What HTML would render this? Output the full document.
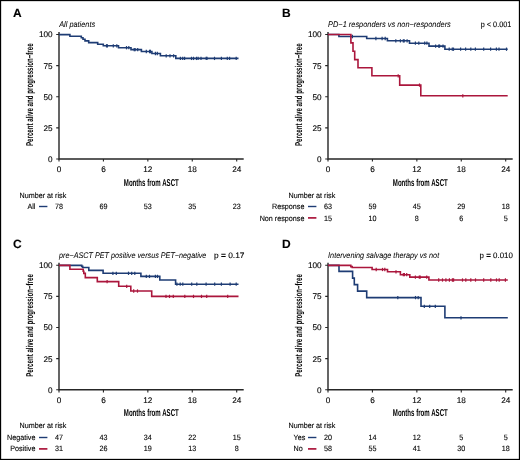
<!DOCTYPE html>
<html><head><meta charset="utf-8"><style>
html,body{margin:0;padding:0;background:#fff;}
svg{display:block;}
text{font-family:"Liberation Sans",sans-serif;fill:#000;text-rendering:geometricPrecision;}
.tx{filter:grayscale(1);}
.tx text{stroke:#000;stroke-width:0.12px;}
.tx text[font-style=italic]{stroke-width:0.04px;}
.tx text.ax{stroke-width:0;}
</style></head><body>
<svg width="520" height="460" viewBox="0 0 520 460">
<rect x="0" y="0" width="520" height="460" fill="#fff"/>
<path d="M59.0 32.0V159.0H243.7" fill="none" stroke="#262626" stroke-width="1.4"/>
<path d="M56.2 159.00H59.0M59.00 159.0V161.6M56.2 127.88H59.0M103.42 159.0V161.6M56.2 96.75H59.0M147.85 159.0V161.6M56.2 65.62H59.0M192.27 159.0V161.6M56.2 34.50H59.0M236.70 159.0V161.6" stroke="#262626" stroke-width="1.1"/>
<line x1="39.0" y1="206.5" x2="47.4" y2="206.5" stroke="#1e3c74" stroke-width="1.4"/>
<path d="M59.0 34.6H69.9V36.2H81.3V37.7H83.0V39.3H85.0V40.9H88.7V42.6H97.7V44.2H103.3V45.8H118.5V47.7H131.0V49.6H141.4V51.5H151.9V53.5H160.4V55.8H175.8V58.4H238.5" fill="none" stroke="#1e3c74" stroke-width="1.6"/>
<g stroke="#1e3c74" stroke-width="1.20"><line x1="106.5" y1="44.15" x2="106.5" y2="47.45"/><line x1="107.4" y1="44.15" x2="107.4" y2="47.45"/><line x1="113.3" y1="44.15" x2="113.3" y2="47.45"/><line x1="116.8" y1="44.15" x2="116.8" y2="47.45"/><line x1="126.5" y1="46.05" x2="126.5" y2="49.35"/><line x1="128.8" y1="46.05" x2="128.8" y2="49.35"/><line x1="134.2" y1="47.95" x2="134.2" y2="51.25"/><line x1="135.1" y1="47.95" x2="135.1" y2="51.25"/><line x1="137.7" y1="47.95" x2="137.7" y2="51.25"/><line x1="146.3" y1="49.85" x2="146.3" y2="53.15"/><line x1="149.6" y1="49.85" x2="149.6" y2="53.15"/><line x1="150.4" y1="49.85" x2="150.4" y2="53.15"/><line x1="155.4" y1="51.85" x2="155.4" y2="55.15"/><line x1="157.3" y1="51.85" x2="157.3" y2="55.15"/><line x1="166.2" y1="54.15" x2="166.2" y2="57.45"/><line x1="170.0" y1="54.15" x2="170.0" y2="57.45"/><line x1="173.6" y1="54.15" x2="173.6" y2="57.45"/><line x1="180.4" y1="56.75" x2="180.4" y2="60.05"/><line x1="182.7" y1="56.75" x2="182.7" y2="60.05"/><line x1="184.6" y1="56.75" x2="184.6" y2="60.05"/><line x1="191.5" y1="56.75" x2="191.5" y2="60.05"/><line x1="193.5" y1="56.75" x2="193.5" y2="60.05"/><line x1="196.5" y1="56.75" x2="196.5" y2="60.05"/><line x1="198.1" y1="56.75" x2="198.1" y2="60.05"/><line x1="201.0" y1="56.75" x2="201.0" y2="60.05"/><line x1="206.2" y1="56.75" x2="206.2" y2="60.05"/><line x1="207.0" y1="56.75" x2="207.0" y2="60.05"/><line x1="214.5" y1="56.75" x2="214.5" y2="60.05"/><line x1="221.4" y1="56.75" x2="221.4" y2="60.05"/><line x1="227.3" y1="56.75" x2="227.3" y2="60.05"/><line x1="229.6" y1="56.75" x2="229.6" y2="60.05"/><line x1="236.2" y1="56.75" x2="236.2" y2="60.05"/></g>
<path d="M328.0 32.0V159.0H512.7" fill="none" stroke="#262626" stroke-width="1.4"/>
<path d="M325.2 159.00H328.0M328.00 159.0V161.6M325.2 127.88H328.0M372.42 159.0V161.6M325.2 96.75H328.0M416.85 159.0V161.6M325.2 65.62H328.0M461.27 159.0V161.6M325.2 34.50H328.0M505.70 159.0V161.6" stroke="#262626" stroke-width="1.1"/>
<line x1="308.0" y1="206.5" x2="316.4" y2="206.5" stroke="#1e3c74" stroke-width="1.4"/>
<line x1="308.0" y1="217.9" x2="316.4" y2="217.9" stroke="#ab163c" stroke-width="1.7"/>
<path d="M328.0 34.5H338.9V36.5H366.7V38.5H387.4V40.8H409.5V43.2H429.0V46.1H444.9V49.2H507.7" fill="none" stroke="#1e3c74" stroke-width="1.6"/>
<g stroke="#1e3c74" stroke-width="1.20"><line x1="352.4" y1="34.85" x2="352.4" y2="38.15"/><line x1="375.9" y1="36.85" x2="375.9" y2="40.15"/><line x1="382.1" y1="36.85" x2="382.1" y2="40.15"/><line x1="385.2" y1="36.85" x2="385.2" y2="40.15"/><line x1="395.8" y1="39.15" x2="395.8" y2="42.45"/><line x1="400.4" y1="39.15" x2="400.4" y2="42.45"/><line x1="403.3" y1="39.15" x2="403.3" y2="42.45"/><line x1="404.2" y1="39.15" x2="404.2" y2="42.45"/><line x1="407.1" y1="39.15" x2="407.1" y2="42.45"/><line x1="415.4" y1="41.55" x2="415.4" y2="44.85"/><line x1="418.8" y1="41.55" x2="418.8" y2="44.85"/><line x1="424.7" y1="41.55" x2="424.7" y2="44.85"/><line x1="426.9" y1="41.55" x2="426.9" y2="44.85"/><line x1="435.6" y1="44.45" x2="435.6" y2="47.75"/><line x1="438.7" y1="44.45" x2="438.7" y2="47.75"/><line x1="439.6" y1="44.45" x2="439.6" y2="47.75"/><line x1="443.0" y1="44.45" x2="443.0" y2="47.75"/><line x1="449.2" y1="47.55" x2="449.2" y2="50.85"/><line x1="452.3" y1="47.55" x2="452.3" y2="50.85"/><line x1="453.5" y1="47.55" x2="453.5" y2="50.85"/><line x1="460.6" y1="47.55" x2="460.6" y2="50.85"/><line x1="465.6" y1="47.55" x2="465.6" y2="50.85"/><line x1="470.8" y1="47.55" x2="470.8" y2="50.85"/><line x1="475.4" y1="47.55" x2="475.4" y2="50.85"/><line x1="483.7" y1="47.55" x2="483.7" y2="50.85"/><line x1="490.6" y1="47.55" x2="490.6" y2="50.85"/><line x1="496.4" y1="47.55" x2="496.4" y2="50.85"/><line x1="499.0" y1="47.55" x2="499.0" y2="50.85"/><line x1="506.5" y1="47.55" x2="506.5" y2="50.85"/></g>
<path d="M328.0 34.5H350.9V42.9H353.0V51.2H354.7V59.6H358.0V67.7H371.9V75.8H399.7V85.1H420.8V95.8H507.7" fill="none" stroke="#ab163c" stroke-width="1.6"/>
<g stroke="#ab163c" stroke-width="1.20"><line x1="398.2" y1="74.15" x2="398.2" y2="77.45"/><line x1="419.5" y1="83.45" x2="419.5" y2="86.75"/><line x1="462.8" y1="94.15" x2="462.8" y2="97.45"/></g>
<path d="M59.0 262.8V389.8H243.7" fill="none" stroke="#262626" stroke-width="1.4"/>
<path d="M56.2 389.75H59.0M59.00 389.8V392.4M56.2 358.62H59.0M103.42 389.8V392.4M56.2 327.50H59.0M147.85 389.8V392.4M56.2 296.38H59.0M192.27 389.8V392.4M56.2 265.25H59.0M236.70 389.8V392.4" stroke="#262626" stroke-width="1.1"/>
<line x1="39.0" y1="437.5" x2="47.4" y2="437.5" stroke="#1e3c74" stroke-width="1.4"/>
<line x1="39.0" y1="448.9" x2="47.4" y2="448.9" stroke="#ab163c" stroke-width="1.7"/>
<path d="M59.0 265.4H81.7V266.4H82.7V267.5H88.8V270.4H103.1V273.3H140.9V276.4H159.8V280.0H175.6V284.2H238.5" fill="none" stroke="#1e3c74" stroke-width="1.6"/>
<g stroke="#1e3c74" stroke-width="1.20"><line x1="112.9" y1="271.65" x2="112.9" y2="274.95"/><line x1="116.3" y1="271.65" x2="116.3" y2="274.95"/><line x1="128.5" y1="271.65" x2="128.5" y2="274.95"/><line x1="131.7" y1="271.65" x2="131.7" y2="274.95"/><line x1="134.8" y1="271.65" x2="134.8" y2="274.95"/><line x1="146.3" y1="274.75" x2="146.3" y2="278.05"/><line x1="149.5" y1="274.75" x2="149.5" y2="278.05"/><line x1="155.4" y1="274.75" x2="155.4" y2="278.05"/><line x1="157.5" y1="274.75" x2="157.5" y2="278.05"/><line x1="176.9" y1="282.55" x2="176.9" y2="285.85"/><line x1="180.2" y1="282.55" x2="180.2" y2="285.85"/><line x1="182.8" y1="282.55" x2="182.8" y2="285.85"/><line x1="191.7" y1="282.55" x2="191.7" y2="285.85"/><line x1="196.8" y1="282.55" x2="196.8" y2="285.85"/><line x1="206.1" y1="282.55" x2="206.1" y2="285.85"/><line x1="214.7" y1="282.55" x2="214.7" y2="285.85"/><line x1="221.4" y1="282.55" x2="221.4" y2="285.85"/><line x1="230.1" y1="282.55" x2="230.1" y2="285.85"/><line x1="236.2" y1="282.55" x2="236.2" y2="285.85"/></g>
<path d="M59.0 265.4H69.9V269.2H83.2V271.3H83.8V273.4H85.3V277.6H97.3V281.6H118.7V286.3H130.8V291.0H151.7V296.4H238.5" fill="none" stroke="#ab163c" stroke-width="1.6"/>
<g stroke="#ab163c" stroke-width="1.20"><line x1="107.1" y1="279.95" x2="107.1" y2="283.25"/><line x1="126.7" y1="284.65" x2="126.7" y2="287.95"/><line x1="133.7" y1="289.35" x2="133.7" y2="292.65"/><line x1="137.5" y1="289.35" x2="137.5" y2="292.65"/><line x1="166.0" y1="294.75" x2="166.0" y2="298.05"/><line x1="169.5" y1="294.75" x2="169.5" y2="298.05"/><line x1="173.3" y1="294.75" x2="173.3" y2="298.05"/><line x1="184.8" y1="294.75" x2="184.8" y2="298.05"/><line x1="193.5" y1="294.75" x2="193.5" y2="298.05"/><line x1="201.5" y1="294.75" x2="201.5" y2="298.05"/><line x1="206.7" y1="294.75" x2="206.7" y2="298.05"/><line x1="227.7" y1="294.75" x2="227.7" y2="298.05"/></g>
<path d="M328.0 262.8V389.8H512.7" fill="none" stroke="#262626" stroke-width="1.4"/>
<path d="M325.2 389.75H328.0M328.00 389.8V392.4M325.2 358.62H328.0M372.42 389.8V392.4M325.2 327.50H328.0M416.85 389.8V392.4M325.2 296.38H328.0M461.27 389.8V392.4M325.2 265.25H328.0M505.70 389.8V392.4" stroke="#262626" stroke-width="1.1"/>
<line x1="308.0" y1="437.5" x2="316.4" y2="437.5" stroke="#1e3c74" stroke-width="1.4"/>
<line x1="308.0" y1="448.9" x2="316.4" y2="448.9" stroke="#ab163c" stroke-width="1.7"/>
<path d="M328.0 265.4H339.0V271.4H352.6V278.1H354.3V284.6H357.6V291.1H366.7V297.6H421.0V306.3H444.9V317.8H507.8" fill="none" stroke="#1e3c74" stroke-width="1.6"/>
<g stroke="#1e3c74" stroke-width="1.20"><line x1="397.8" y1="295.95" x2="397.8" y2="299.25"/><line x1="415.5" y1="295.95" x2="415.5" y2="299.25"/><line x1="418.2" y1="295.95" x2="418.2" y2="299.25"/><line x1="424.3" y1="304.65" x2="424.3" y2="307.95"/><line x1="429.7" y1="304.65" x2="429.7" y2="307.95"/><line x1="435.3" y1="304.65" x2="435.3" y2="307.95"/><line x1="461.0" y1="316.15" x2="461.0" y2="319.45"/></g>
<path d="M328.0 265.4H350.8V266.6H352.2V267.5H372.1V269.5H387.5V271.8H400.4V274.7H409.8V277.1H428.9V280.0H507.8" fill="none" stroke="#ab163c" stroke-width="1.6"/>
<g stroke="#ab163c" stroke-width="1.20"><line x1="376.2" y1="267.85" x2="376.2" y2="271.15"/><line x1="382.5" y1="267.85" x2="382.5" y2="271.15"/><line x1="384.8" y1="267.85" x2="384.8" y2="271.15"/><line x1="396.0" y1="270.15" x2="396.0" y2="273.45"/><line x1="403.3" y1="273.05" x2="403.3" y2="276.35"/><line x1="404.4" y1="273.05" x2="404.4" y2="276.35"/><line x1="406.7" y1="273.05" x2="406.7" y2="276.35"/><line x1="415.4" y1="275.45" x2="415.4" y2="278.75"/><line x1="419.3" y1="275.45" x2="419.3" y2="278.75"/><line x1="420.2" y1="275.45" x2="420.2" y2="278.75"/><line x1="426.7" y1="275.45" x2="426.7" y2="278.75"/><line x1="438.7" y1="278.35" x2="438.7" y2="281.65"/><line x1="442.5" y1="278.35" x2="442.5" y2="281.65"/><line x1="445.9" y1="278.35" x2="445.9" y2="281.65"/><line x1="449.4" y1="278.35" x2="449.4" y2="281.65"/><line x1="452.4" y1="278.35" x2="452.4" y2="281.65"/><line x1="453.6" y1="278.35" x2="453.6" y2="281.65"/><line x1="462.5" y1="278.35" x2="462.5" y2="281.65"/><line x1="465.8" y1="278.35" x2="465.8" y2="281.65"/><line x1="470.8" y1="278.35" x2="470.8" y2="281.65"/><line x1="475.5" y1="278.35" x2="475.5" y2="281.65"/><line x1="483.7" y1="278.35" x2="483.7" y2="281.65"/><line x1="490.8" y1="278.35" x2="490.8" y2="281.65"/><line x1="496.5" y1="278.35" x2="496.5" y2="281.65"/><line x1="499.2" y1="278.35" x2="499.2" y2="281.65"/><line x1="505.4" y1="278.35" x2="505.4" y2="281.65"/></g>
<g class="tx">
<text x="13.00" y="17.10" font-size="12" font-weight="bold">A</text>
<text x="52.60" y="161.90" font-size="8.2" text-anchor="end">0</text>
<text x="52.60" y="130.78" font-size="8.2" text-anchor="end">25</text>
<text x="52.60" y="99.65" font-size="8.2" text-anchor="end">50</text>
<text x="52.60" y="68.52" font-size="8.2" text-anchor="end">75</text>
<text x="52.60" y="37.40" font-size="8.2" text-anchor="end">100</text>
<text x="59.00" y="172.00" font-size="8.2" text-anchor="middle">0</text>
<text x="103.42" y="172.00" font-size="8.2" text-anchor="middle">6</text>
<text x="147.85" y="172.00" font-size="8.2" text-anchor="middle">12</text>
<text x="192.27" y="172.00" font-size="8.2" text-anchor="middle">18</text>
<text x="236.70" y="172.00" font-size="8.2" text-anchor="middle">24</text>
<text x="123.8" y="185.5" font-size="10" font-weight="bold" class="ax" textLength="55" lengthAdjust="spacingAndGlyphs">Months from ASCT</text>
<text transform="translate(33.0 146.0) rotate(-90)" font-size="9.9" font-weight="bold" class="ax" textLength="102.6" lengthAdjust="spacingAndGlyphs">Percent alive and progression−free</text>
<text transform="translate(59.20 27.00) scale(0.896 1)" font-size="8.2" font-style="italic">All patients</text>
<text transform="translate(19.50 197.60) scale(0.935 1)" font-size="7.7">Number at risk</text>
<text transform="translate(35.40 209.00) scale(0.935 1)" font-size="7.7" text-anchor="end">All</text>
<text transform="translate(59.00 209.00) scale(0.935 1)" font-size="7.7" text-anchor="middle">78</text>
<text transform="translate(103.42 209.00) scale(0.935 1)" font-size="7.7" text-anchor="middle">69</text>
<text transform="translate(147.85 209.00) scale(0.935 1)" font-size="7.7" text-anchor="middle">53</text>
<text transform="translate(192.27 209.00) scale(0.935 1)" font-size="7.7" text-anchor="middle">35</text>
<text transform="translate(236.70 209.00) scale(0.935 1)" font-size="7.7" text-anchor="middle">23</text>
<text x="282.00" y="17.10" font-size="12" font-weight="bold">B</text>
<text x="321.60" y="161.90" font-size="8.2" text-anchor="end">0</text>
<text x="321.60" y="130.78" font-size="8.2" text-anchor="end">25</text>
<text x="321.60" y="99.65" font-size="8.2" text-anchor="end">50</text>
<text x="321.60" y="68.52" font-size="8.2" text-anchor="end">75</text>
<text x="321.60" y="37.40" font-size="8.2" text-anchor="end">100</text>
<text x="328.00" y="172.00" font-size="8.2" text-anchor="middle">0</text>
<text x="372.42" y="172.00" font-size="8.2" text-anchor="middle">6</text>
<text x="416.85" y="172.00" font-size="8.2" text-anchor="middle">12</text>
<text x="461.27" y="172.00" font-size="8.2" text-anchor="middle">18</text>
<text x="505.70" y="172.00" font-size="8.2" text-anchor="middle">24</text>
<text x="392.8" y="185.5" font-size="10" font-weight="bold" class="ax" textLength="55" lengthAdjust="spacingAndGlyphs">Months from ASCT</text>
<text transform="translate(302.0 146.0) rotate(-90)" font-size="9.9" font-weight="bold" class="ax" textLength="102.6" lengthAdjust="spacingAndGlyphs">Percent alive and progression−free</text>
<text x="328.10" y="27.00" font-size="8.2" font-style="italic" textLength="122.7" lengthAdjust="spacingAndGlyphs">PD−1 responders vs non−responders</text>
<text x="480.80" y="27.00" font-size="7.9" textLength="30.5" lengthAdjust="spacingAndGlyphs">p &lt; 0.001</text>
<text transform="translate(288.50 197.60) scale(0.935 1)" font-size="7.7">Number at risk</text>
<text transform="translate(304.40 209.00) scale(0.935 1)" font-size="7.7" text-anchor="end">Response</text>
<text transform="translate(328.00 209.00) scale(0.935 1)" font-size="7.7" text-anchor="middle">63</text>
<text transform="translate(372.42 209.00) scale(0.935 1)" font-size="7.7" text-anchor="middle">59</text>
<text transform="translate(416.85 209.00) scale(0.935 1)" font-size="7.7" text-anchor="middle">45</text>
<text transform="translate(461.27 209.00) scale(0.935 1)" font-size="7.7" text-anchor="middle">29</text>
<text transform="translate(505.70 209.00) scale(0.935 1)" font-size="7.7" text-anchor="middle">18</text>
<text transform="translate(304.40 220.60) scale(0.935 1)" font-size="7.7" text-anchor="end">Non response</text>
<text transform="translate(328.00 220.60) scale(0.935 1)" font-size="7.7" text-anchor="middle">15</text>
<text transform="translate(372.42 220.60) scale(0.935 1)" font-size="7.7" text-anchor="middle">10</text>
<text transform="translate(416.85 220.60) scale(0.935 1)" font-size="7.7" text-anchor="middle">8</text>
<text transform="translate(461.27 220.60) scale(0.935 1)" font-size="7.7" text-anchor="middle">6</text>
<text transform="translate(505.70 220.60) scale(0.935 1)" font-size="7.7" text-anchor="middle">5</text>
<text x="13.00" y="247.85" font-size="12" font-weight="bold">C</text>
<text x="52.60" y="392.65" font-size="8.2" text-anchor="end">0</text>
<text x="52.60" y="361.52" font-size="8.2" text-anchor="end">25</text>
<text x="52.60" y="330.40" font-size="8.2" text-anchor="end">50</text>
<text x="52.60" y="299.27" font-size="8.2" text-anchor="end">75</text>
<text x="52.60" y="268.15" font-size="8.2" text-anchor="end">100</text>
<text x="59.00" y="402.75" font-size="8.2" text-anchor="middle">0</text>
<text x="103.42" y="402.75" font-size="8.2" text-anchor="middle">6</text>
<text x="147.85" y="402.75" font-size="8.2" text-anchor="middle">12</text>
<text x="192.27" y="402.75" font-size="8.2" text-anchor="middle">18</text>
<text x="236.70" y="402.75" font-size="8.2" text-anchor="middle">24</text>
<text x="123.8" y="416.2" font-size="10" font-weight="bold" class="ax" textLength="55" lengthAdjust="spacingAndGlyphs">Months from ASCT</text>
<text transform="translate(33.0 376.8) rotate(-90)" font-size="9.9" font-weight="bold" class="ax" textLength="102.6" lengthAdjust="spacingAndGlyphs">Percent alive and progression−free</text>
<text x="59.00" y="257.75" font-size="8.2" font-style="italic" textLength="147.4" lengthAdjust="spacingAndGlyphs">pre−ASCT PET positive versus PET−negative</text>
<text x="213.90" y="257.75" font-size="7.9" textLength="30.6" lengthAdjust="spacingAndGlyphs">p <tspan font-weight="bold">=</tspan> 0.17</text>
<text transform="translate(19.50 428.35) scale(0.935 1)" font-size="7.7">Number at risk</text>
<text transform="translate(35.40 439.75) scale(0.935 1)" font-size="7.7" text-anchor="end">Negative</text>
<text transform="translate(59.00 439.75) scale(0.935 1)" font-size="7.7" text-anchor="middle">47</text>
<text transform="translate(103.42 439.75) scale(0.935 1)" font-size="7.7" text-anchor="middle">43</text>
<text transform="translate(147.85 439.75) scale(0.935 1)" font-size="7.7" text-anchor="middle">34</text>
<text transform="translate(192.27 439.75) scale(0.935 1)" font-size="7.7" text-anchor="middle">22</text>
<text transform="translate(236.70 439.75) scale(0.935 1)" font-size="7.7" text-anchor="middle">15</text>
<text transform="translate(35.40 451.35) scale(0.935 1)" font-size="7.7" text-anchor="end">Positive</text>
<text transform="translate(59.00 451.35) scale(0.935 1)" font-size="7.7" text-anchor="middle">31</text>
<text transform="translate(103.42 451.35) scale(0.935 1)" font-size="7.7" text-anchor="middle">26</text>
<text transform="translate(147.85 451.35) scale(0.935 1)" font-size="7.7" text-anchor="middle">19</text>
<text transform="translate(192.27 451.35) scale(0.935 1)" font-size="7.7" text-anchor="middle">13</text>
<text transform="translate(236.70 451.35) scale(0.935 1)" font-size="7.7" text-anchor="middle">8</text>
<text x="282.00" y="247.85" font-size="12" font-weight="bold">D</text>
<text x="321.60" y="392.65" font-size="8.2" text-anchor="end">0</text>
<text x="321.60" y="361.52" font-size="8.2" text-anchor="end">25</text>
<text x="321.60" y="330.40" font-size="8.2" text-anchor="end">50</text>
<text x="321.60" y="299.27" font-size="8.2" text-anchor="end">75</text>
<text x="321.60" y="268.15" font-size="8.2" text-anchor="end">100</text>
<text x="328.00" y="402.75" font-size="8.2" text-anchor="middle">0</text>
<text x="372.42" y="402.75" font-size="8.2" text-anchor="middle">6</text>
<text x="416.85" y="402.75" font-size="8.2" text-anchor="middle">12</text>
<text x="461.27" y="402.75" font-size="8.2" text-anchor="middle">18</text>
<text x="505.70" y="402.75" font-size="8.2" text-anchor="middle">24</text>
<text x="392.8" y="416.2" font-size="10" font-weight="bold" class="ax" textLength="55" lengthAdjust="spacingAndGlyphs">Months from ASCT</text>
<text transform="translate(302.0 376.8) rotate(-90)" font-size="9.9" font-weight="bold" class="ax" textLength="102.6" lengthAdjust="spacingAndGlyphs">Percent alive and progression−free</text>
<text x="328.10" y="257.75" font-size="8.2" font-style="italic" textLength="111.1" lengthAdjust="spacingAndGlyphs">Intervening salvage therapy vs not</text>
<text x="479.60" y="257.75" font-size="7.9" textLength="33.3" lengthAdjust="spacingAndGlyphs">p <tspan font-weight="bold">=</tspan> 0.010</text>
<text transform="translate(288.50 428.35) scale(0.935 1)" font-size="7.7">Number at risk</text>
<text transform="translate(293.50 439.75) scale(0.935 1)" font-size="7.7">Yes</text>
<text transform="translate(328.00 439.75) scale(0.935 1)" font-size="7.7" text-anchor="middle">20</text>
<text transform="translate(372.42 439.75) scale(0.935 1)" font-size="7.7" text-anchor="middle">14</text>
<text transform="translate(416.85 439.75) scale(0.935 1)" font-size="7.7" text-anchor="middle">12</text>
<text transform="translate(461.27 439.75) scale(0.935 1)" font-size="7.7" text-anchor="middle">5</text>
<text transform="translate(505.70 439.75) scale(0.935 1)" font-size="7.7" text-anchor="middle">5</text>
<text transform="translate(293.60 451.35) scale(0.935 1)" font-size="7.7">No</text>
<text transform="translate(328.00 451.35) scale(0.935 1)" font-size="7.7" text-anchor="middle">58</text>
<text transform="translate(372.42 451.35) scale(0.935 1)" font-size="7.7" text-anchor="middle">55</text>
<text transform="translate(416.85 451.35) scale(0.935 1)" font-size="7.7" text-anchor="middle">41</text>
<text transform="translate(461.27 451.35) scale(0.935 1)" font-size="7.7" text-anchor="middle">30</text>
<text transform="translate(505.70 451.35) scale(0.935 1)" font-size="7.7" text-anchor="middle">18</text>
</g>
<rect x="0.5" y="0.5" width="519" height="459" fill="none" stroke="#000" stroke-width="1.3"/>
</svg>
</body></html>
